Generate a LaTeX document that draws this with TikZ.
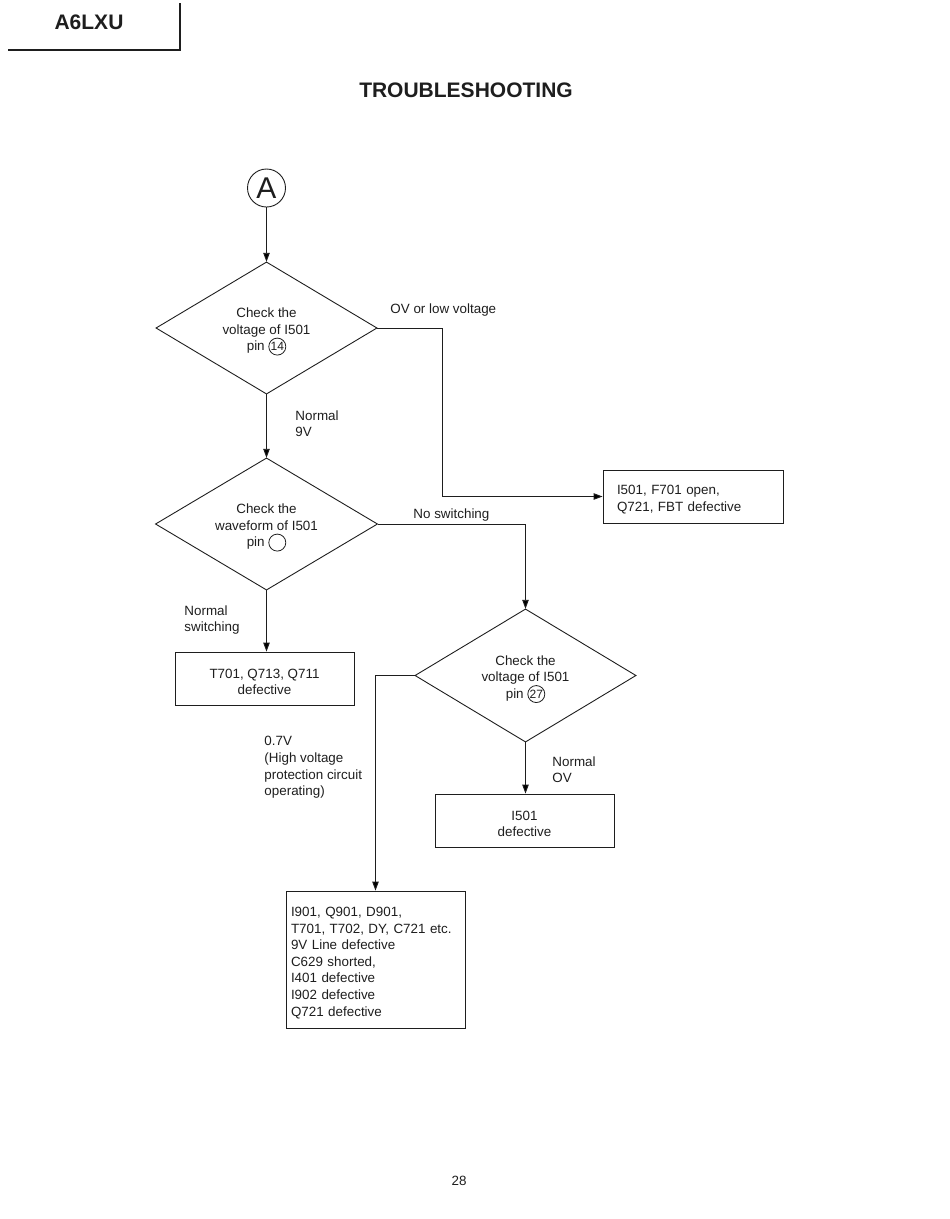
\documentclass[tikz,border=0pt]{standalone}
\usepackage{fontspec}
\setmainfont{Liberation Sans}
\usetikzlibrary{arrows.meta,calc,positioning,shapes.geometric}
\definecolor{ink}{HTML}{1E1E1E}

% circled pin number inside a decision
\newcommand{\pinno}[1]{\tikz[baseline=(pc.base)]\node[shape=circle,draw=ink,line width=.8pt,inner sep=0pt,
  minimum size=17pt,anchor=center,font=\fontsize{12}{12}\selectfont] (pc) {#1};}
% extra room above the first line
\newcommand{\topgap}[1]{\rule{0pt}{#1}}

\begin{document}
\begin{tikzpicture}[x=1pt,y=-1pt,line width=.9pt,draw=ink,text=ink,
  >={Triangle[length=9pt,width=6.5pt]},
  font=\fontsize{13.4}{16.6}\selectfont,
  decision/.style={draw,diamond,aspect=1.67,inner sep=0pt,align=center},
  result/.style={draw,rectangle,minimum width=179pt,minimum height=53pt,inner sep=0pt,align=center},
  note/.style={align=left,anchor=north west,inner sep=0pt}]
  \useasboundingbox (0,0) rectangle (950,1219);

  % page header
  \node[font=\bfseries\fontsize{21}{21}\selectfont] (model) at (89,22) {A6LXU};
  \draw[line width=1.2pt] (8,50) -- (180,50) -- (180,3);
  \node[font=\bfseries\fontsize{21}{21}\selectfont] (title) at (466,90) {TROUBLESHOOTING};

  % flow
  \node[draw,circle,minimum size=38pt,inner sep=0pt,font=\fontsize{30}{30}\selectfont] (start) at (266.5,188) {A};
  \node[decision,minimum width=221pt,minimum height=132pt] (chk14) at (266.5,328)
    {\topgap{17pt}Check the\\voltage of I501\\pin \pinno{14}};
  \node[decision,minimum width=222pt,minimum height=132pt] (chkwave) at (266.5,524)
    {\topgap{17pt}Check the\\waveform of I501\\pin \pinno{\phantom{00}}};
  \node[decision,minimum width=221pt,minimum height=133pt] (chk27) at (525.5,675.5)
    {\topgap{17pt}Check the\\voltage of I501\\pin \pinno{27}};

  \node[result,text width=152pt,inner xsep=14pt,align=left] (bad14) at (693,496.5)
    {\topgap{16pt}I501, F701 open,\\Q721, FBT defective};
  \node[result] (t701) at (264.5,678.5) {\topgap{16pt}T701, Q713, Q711\\defective};
  \node[result] (i501) at (524.5,820.5) {\topgap{16pt}I501\\defective};
  \node[result,minimum height=137pt,text width=169pt,inner xsep=5pt,align=left] (defects) at (375.5,959.5)
    {\topgap{16pt}I901, Q901, D901,\\T701, T702, DY, C721 etc.\\9V Line defective\\C629 shorted,\\I401 defective\\I902 defective\\Q721 defective};

  \coordinate (bend14) at (442,328);

  \draw[->] (start.south) -- (chk14.north);
  \draw[->] (chk14.east) -- (bend14) |- (bad14.west);
  \draw[->] (chk14.south) -- (chkwave.north);
  \draw[->] (chkwave.east) -| (chk27.north);
  \draw[->] (chkwave.south) -- (chkwave.south |- t701.north);
  \draw[->] (chk27.west) -| (defects.north);
  \draw[->] (chk27.south) -- (chk27.south |- i501.north);

  \node[anchor=west,inner sep=0pt] (lowlbl) at (390,310) {OV or low voltage};
  \node[note] (ninelbl) at (295,410) {Normal\\9V};
  \node[anchor=west,inner sep=0pt] (noswlbl) at (413,515.5) {No switching};
  \node[note] (swlbl) at (184,605) {Normal\\switching};
  \node[note] (hvlbl) at (264,736) {0.7V\\(High voltage\\protection circuit\\operating)};
  \node[note] (ovlbl) at (552,756) {Normal\\OV};

  \node (page) at (459,1181) {28};
\end{tikzpicture}
\end{document}
